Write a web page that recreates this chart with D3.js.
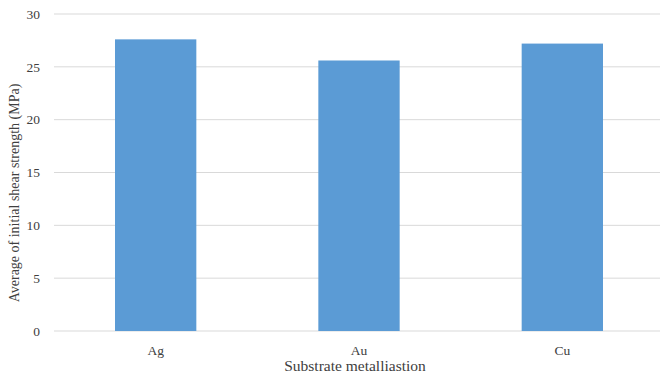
<!DOCTYPE html>
<html>
<head>
<meta charset="utf-8">
<script src="https://cdn.jsdelivr.net/npm/d3@7"></script>
<style>
  html, body { margin: 0; padding: 0; background: #fff; }
  svg { display: block; }
  text { font-family: "Liberation Serif", "Times New Roman", serif; fill: #404040; }
</style>
</head>
<body>
<svg id="chart" width="660" height="381"></svg>
<script>
// Average initial shear strength per substrate metallisation
const categories = ["Ag", "Au", "Cu"];
const shearStrength = [27.6, 25.6, 27.2];
const yTicks = [0, 5, 10, 15, 20, 25, 30];

const width = 660, height = 381;
const margin = { top: 14, right: -4, bottom: 50, left: 54 };

const svg = d3.select("#chart");

const x = d3.scaleBand()
  .domain(categories)
  .range([margin.left, width - margin.right])
  .paddingInner(0.6)
  .paddingOuter(0.3);

const y = d3.scaleLinear()
  .domain([0, 30])
  .range([height - margin.bottom, margin.top]);

// horizontal gridlines
svg.append("g")
  .selectAll("line")
  .data(yTicks)
  .join("line")
  .attr("x1", margin.left)
  .attr("x2", width)
  .attr("y1", d => y(d))
  .attr("y2", d => y(d))
  .attr("stroke", "#d9d9d9")
  .attr("stroke-width", 1);

// bars
svg.append("g")
  .selectAll("rect")
  .data(categories)
  .join("rect")
  .attr("x", d => x(d))
  .attr("width", x.bandwidth())
  .attr("y", (d, i) => y(shearStrength[i]))
  .attr("height", (d, i) => y(0) - y(shearStrength[i]))
  .attr("fill", "#5b9bd5");

// y axis labels
const yAxis = d3.axisLeft(y).tickValues(yTicks).tickSize(0).tickPadding(0);
const gy = svg.append("g")
  .attr("transform", `translate(${margin.left - 14},0)`)
  .call(yAxis);
gy.select(".domain").remove();
gy.selectAll("text")
  .style("font-family", "Liberation Serif, serif")
  .style("font-size", "13.5px")
  .attr("fill", "#404040");

// x axis labels
const xAxis = d3.axisBottom(x).tickSize(0).tickPadding(0);
const gx = svg.append("g")
  .attr("transform", `translate(0,${y(0) + 14})`)
  .call(xAxis);
gx.select(".domain").remove();
gx.selectAll("text")
  .style("font-family", "Liberation Serif, serif")
  .style("font-size", "13.5px")
  .attr("fill", "#404040");

// axis titles
svg.append("text")
  .attr("x", 355)
  .attr("y", 371)
  .attr("text-anchor", "middle")
  .style("font-size", "15.5px")
  .text("Substrate metalliastion");

svg.append("text")
  .attr("transform", "translate(19,193) rotate(-90)")
  .attr("text-anchor", "middle")
  .style("font-size", "14px")
  .text("Average of initial shear strength (MPa)");
</script>
</body>
</html>
